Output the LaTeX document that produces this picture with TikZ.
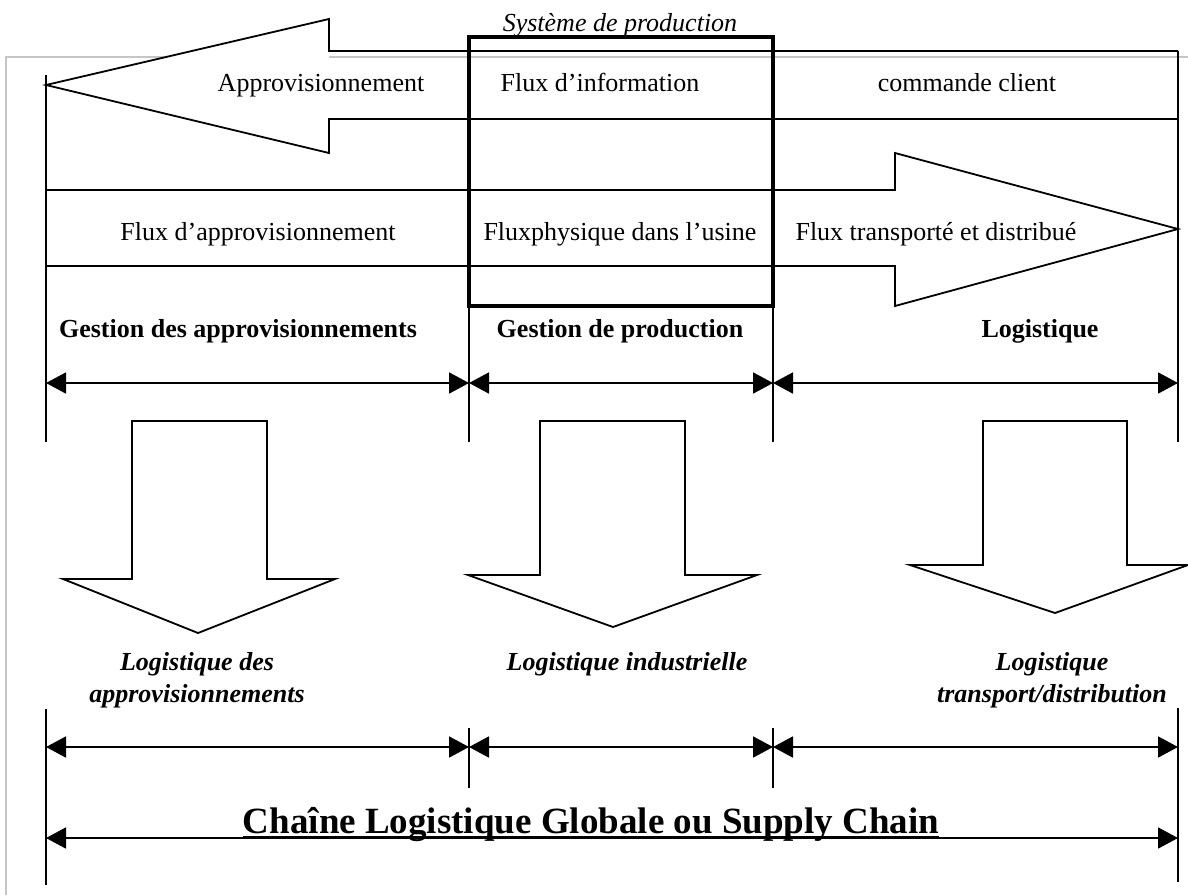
\documentclass[tikz,border=0pt]{standalone}
\usepackage{fontspec}
\setmainfont{Liberation Serif}
\usetikzlibrary{arrows.meta}
\tikzset{
  trait/.style={line width=1.8pt},
  cadre/.style={line width=3.6pt},
  cote/.style={trait, {Triangle[length=20pt,width=21pt]}-{Triangle[length=20pt,width=21pt]}},
  texte/.style={inner sep=0pt, anchor=base, font=\fontsize{26}{32}\selectfont},
  gras/.style={texte, font=\fontsize{26}{32}\selectfont\bfseries},
  grasit/.style={texte, font=\fontsize{26}{32}\selectfont\bfseries\itshape},
}
\begin{document}
\begin{tikzpicture}[x=1pt,y=-1pt]
  \useasboundingbox (0,0) rectangle (1188,895);
  % cadre gris de la page
  \draw[gray!45, line width=1.2pt] (6,895) -- (6,57) -- (1188,57);
  % fleche du flux d'information (vers la gauche)
  \fill[white] (46,85) -- (329,19) -- (329,153) -- cycle;
  \draw[trait] (1178,51) -- (329,51) -- (329,19) -- (46,85) -- (329,153) -- (329,119) -- (1178,119);
  % fleche du flux physique (vers la droite)
  \draw[trait] (46,190) -- (895,190) -- (895,153) -- (1178,229) -- (895,306) -- (895,266) -- (46,266);
  % systeme de production
  \draw[cadre] (469,37) rectangle (773,306);
  % traits verticaux
  \draw[trait] (46,75) -- (46,442);
  \draw[trait] (1178,51) -- (1178,442);
  \foreach \x in {469,773}
   \draw[trait] (\x,306) -- (\x,442);
  \draw[trait] (46,709) -- (46,885);
  \draw[trait] (1178,708) -- (1178,882);
  \foreach \x in {469,773}
   \draw[trait] (\x,728) -- (\x,788);
  % grosses fleches vers le bas
  \draw[trait] (132,421) -- (267,421) -- (267,579) -- (335,579) -- (198,633) -- (63,579) -- (132,579) -- cycle;
  \draw[trait] (540,421) -- (685,421) -- (685,575) -- (757,575) -- (613,627) -- (468,575) -- (540,575) -- cycle;
  \draw[trait] (983,421) -- (1127,421) -- (1127,565) -- (1188,565) -- (1055,613) -- (910,565) -- (983,565) -- cycle;
  % cotes
  \foreach \n/\x in {a/46,b/469,c/773,d/1178} {
   \coordinate (h\n) at (\x,383);
   \coordinate (b\n) at (\x,747);
  }
  \coordinate (ga) at (46,838);
  \coordinate (gd) at (1178,838);
  \foreach \u/\v in {a/b,b/c,c/d} {
   \draw[cote] (h\u) -- (h\v);
   \draw[cote] (b\u) -- (b\v);
  }
  \draw[cote] (ga) -- (gd);
  % textes
  \node[texte, font=\fontsize{26}{32}\selectfont\itshape] (sysprod) at (620,31) {Système de production};
  \node[texte] (appro) at (321,91) {Approvisionnement};
  \node[texte] (info) at (600,91) {Flux d’information};
  \node[texte] (cmd) at (967,91) {commande client};
  \node[texte] (fappro) at (258,240) {Flux d’approvisionnement};
  \node[texte] (fusine) at (620,240) {Fluxphysique dans l’usine};
  \node[texte] (ftrans) at (936,240) {Flux transporté et distribué};
  \node[gras] (gappro) at (238,337) {Gestion des approvisionnements};
  \node[gras] (gprod) at (620,337) {Gestion de production};
  \node[gras] (glog) at (1040,337) {Logistique};
  \node[grasit, anchor=center, align=center] (lappro) at (197,680) {Logistique des\\approvisionnements};
  \node[grasit] (lind) at (627,670) {Logistique industrielle};
  \node[grasit, anchor=center, align=center] (ltrans) at (1052,680) {Logistique\\transport/distribution};
  \node[texte, font=\fontsize{37}{44}\selectfont\bfseries] (chaine) at (591,833) {Chaîne Logistique Globale ou Supply Chain};
  \draw[trait] ([yshift=-4pt]chaine.base west) -- ([yshift=-4pt]chaine.base east);
\end{tikzpicture}
\end{document}
